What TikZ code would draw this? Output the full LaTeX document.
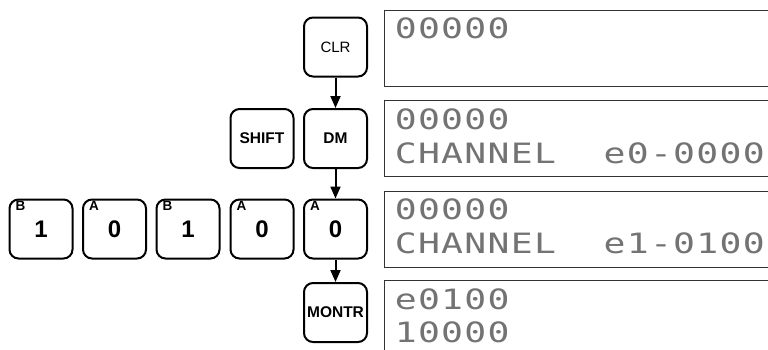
\documentclass[tikz,border=0pt]{standalone}
\usepackage{fontspec}
\setmainfont{Liberation Sans}
\newfontfamily\lcdfont[FakeStretch=1.3]{DejaVu Sans Mono}
\usetikzlibrary{arrows.meta}
\newlength\lcdpitch
\setlength\lcdpitch{23.2pt}
\def\lcd#1{\lcdloop#1\relax}
\def\lcdloop#1{\ifx\relax#1\else\makebox[\lcdpitch][c]{#1}\expandafter\lcdloop\fi}
\begin{document}
\begin{tikzpicture}[x=1pt,y=-1pt,
  key/.style={draw, line width=2pt, rounded corners=9pt, minimum width=63pt, minimum height=59pt, inner sep=0pt},
  wordkey/.style={key, font=\bfseries\fontsize{15.5}{17}\selectfont},
  numkey/.style={key, font=\bfseries\fontsize{24}{25}\selectfont},
  sublbl/.style={anchor=north west, inner sep=0pt, font=\bfseries\fontsize{13.5}{14}\selectfont},
  flow/.style={line width=2pt, -{Triangle[length=12pt,width=10pt]}},
  display/.style={draw=black!80, line width=1.2pt, anchor=north west, minimum width=420pt, minimum height=76pt, inner sep=0pt},
  lcdtext/.style={anchor=base west, inner sep=0pt, text=black!55, font=\lcdfont\fontsize{28}{30}\selectfont}
]
\useasboundingbox (0,0) rectangle (768,349);
\clip (0,0) rectangle (768,349);
\fill[white] (0,0) rectangle (768,349);

% keys
\node[key, font=\fontsize{15}{17}\selectfont] (clr) at (335.5,47) {CLR};
\node[wordkey] (dm) at (335.5,138.5) {DM};
\node[wordkey] (shift) at (262,138.5) {SHIFT};
\node[numkey] (k1) at (41,229) {1};
\node[numkey] (k2) at (114.5,229) {0};
\node[numkey] (k3) at (188,229) {1};
\node[numkey] (k4) at (262,229) {0};
\node[numkey] (k5) at (335.5,229) {0};
\node[wordkey] (montr) at (335.5,312.5) {MONTR};

\node[sublbl] (s1) at ([xshift=7pt,yshift=-3pt]k1.north west) {B};
\node[sublbl] (s2) at ([xshift=7pt,yshift=-3pt]k2.north west) {A};
\node[sublbl] (s3) at ([xshift=7pt,yshift=-3pt]k3.north west) {B};
\node[sublbl] (s4) at ([xshift=7pt,yshift=-3pt]k4.north west) {A};
\node[sublbl] (s5) at ([xshift=7pt,yshift=-3pt]k5.north west) {A};

% arrows
\draw[flow] (clr) -- (dm);
\draw[flow] (dm) -- (k5);
\draw[flow] (k5) -- (montr);

% displays
\node[display] (d1) at (384,9.5) {};
\node[display] (d2) at (384,100) {};
\node[display] (d3) at (384,190.5) {};
\node[display] (d4) at (384,280) {};

\node[lcdtext] (t1a) at ([xshift=10pt,yshift=-29pt]d1.north west) {\lcd{00000}};
\node[lcdtext] (t2a) at ([xshift=10pt,yshift=-29pt]d2.north west) {\lcd{00000}};
\node[lcdtext] (t2b) at ([xshift=10pt,yshift=-63pt]d2.north west) {\lcd{CHANNEL~~e0-0000}};
\node[lcdtext] (t3a) at ([xshift=10pt,yshift=-29pt]d3.north west) {\lcd{00000}};
\node[lcdtext] (t3b) at ([xshift=10pt,yshift=-63pt]d3.north west) {\lcd{CHANNEL~~e1-0100}};
\node[lcdtext] (t4a) at ([xshift=10pt,yshift=-29pt]d4.north west) {\lcd{e0100}};
\node[lcdtext] (t4b) at ([xshift=10pt,yshift=-62pt]d4.north west) {\lcd{10000}};
\end{tikzpicture}
\end{document}
